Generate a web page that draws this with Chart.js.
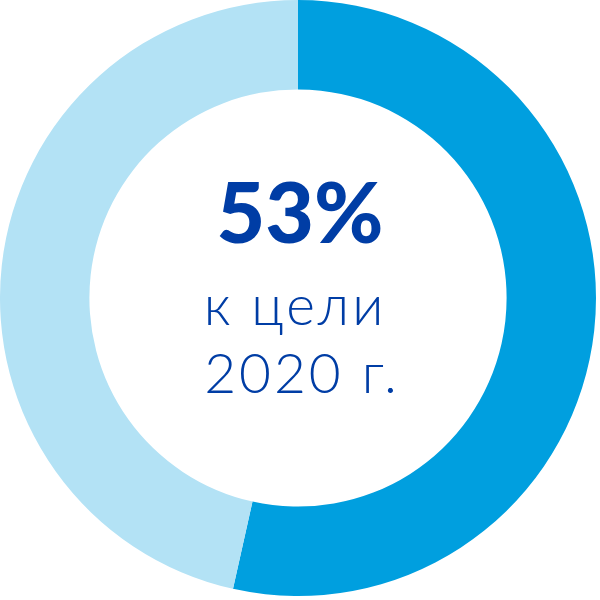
<!DOCTYPE html>
<html>
<head>
<meta charset="utf-8">
<script src="https://cdn.jsdelivr.net/npm/chart.js@4"></script>
<style>
html,body{margin:0;padding:0;background:#fff;}
#wrap{position:absolute;left:0;top:0;width:596px;height:596px;}
</style>
</head>
<body>
<div id="wrap"><canvas id="c"></canvas></div>
<script>
const categories = ["Достигнуто", "Осталось"];
const values = [53.5, 46.5];
const centerLabels = ["53%", "к цели", "2020 г."];

const centerText = {
  id: 'centerText',
  afterDraw(chart) {
    const ctx = chart.ctx;
    const m = chart.getDatasetMeta(0).data[0];
    const cx = m.x, cy = m.y;
    ctx.save();
    ctx.fillStyle = '#003DA5';
    ctx.textAlign = 'center';
    ctx.textBaseline = 'alphabetic';
    ctx.font = '900 84px "Lato", "Open Sans", sans-serif';
    ctx.fillText(centerLabels[0], cx + 2, cy - 55);
    ctx.font = '300 55px "Lato", "Open Sans", sans-serif';
    ctx.letterSpacing = '3px';
    ctx.fillText(centerLabels[1], cx - 3, cy + 27);
    ctx.fillText(centerLabels[2], cx + 4, cy + 95);
    ctx.restore();
  }
};

new Chart(document.getElementById('c'), {
  type: 'doughnut',
  data: {
    labels: categories,
    datasets: [{
      data: values,
      backgroundColor: ['#009FDF', '#B3E2F5'],
      borderWidth: 0,
      hoverOffset: 0
    }]
  },
  options: {
    responsive: true,
    maintainAspectRatio: false,
    animation: false,
    cutout: '70%',
    layout: { padding: 0 },
    plugins: { legend: { display: false }, tooltip: { enabled: false } }
  },
  plugins: [centerText]
});
</script>
</body>
</html>
